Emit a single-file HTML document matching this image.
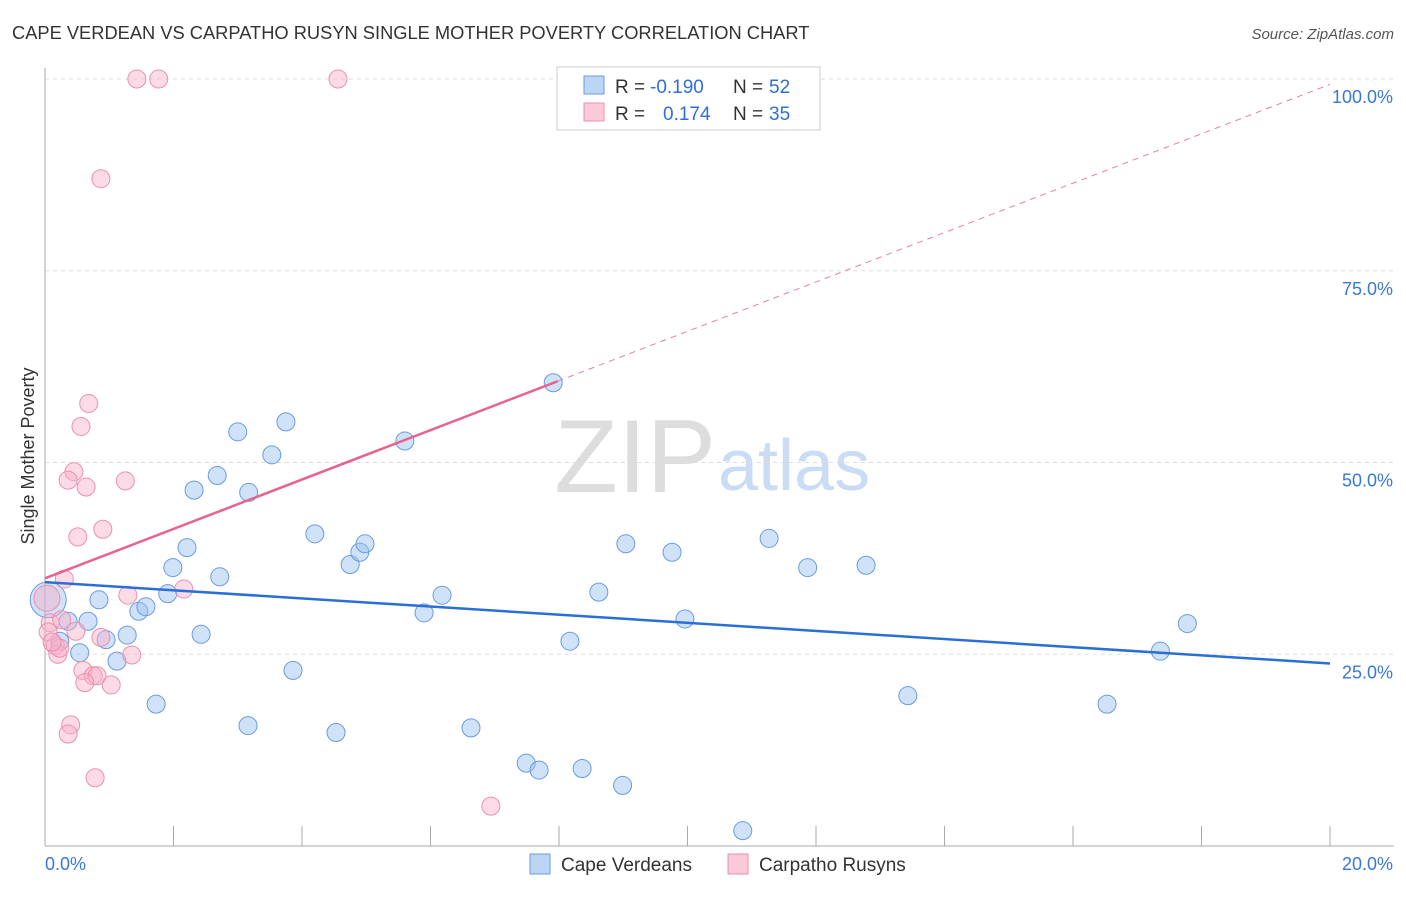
<!DOCTYPE html>
<html><head><meta charset="utf-8"><style>
body{margin:0;background:#fff;font-family:"Liberation Sans",sans-serif;}
svg text{font-family:"Liberation Sans",sans-serif;}
</style></head><body>
<svg id="chart" width="1406" height="892">
<text x="12" y="39" font-size="18.3" fill="#333">CAPE VERDEAN VS CARPATHO RUSYN SINGLE MOTHER POVERTY CORRELATION CHART</text>
<text x="1394" y="39" font-size="15" fill="#555" text-anchor="end" font-style="italic">Source: ZipAtlas.com</text>
<text x="0" y="0" transform="translate(34,456) rotate(-90)" font-size="18" fill="#333" text-anchor="middle">Single Mother Poverty</text>
<text x="716" y="492" font-size="104" fill="#ddd" text-anchor="end" font-family="Liberation Serif">ZIP</text>
<text x="718" y="490" font-size="72" fill="#c9dcf3">atlas</text>
<g id="grid"></g><g id="axes"></g><g id="lines"></g><g id="pts"></g>
<g>
<rect x="557" y="67" width="263" height="63" fill="#fff" stroke="#ccc"/>
<rect x="584" y="76" width="20" height="18" fill="#bdd5f5" stroke="#6a9be0"/>
<rect x="584" y="103" width="20" height="18" fill="#fcc9d8" stroke="#ec8fb0"/>
<text y="93" font-size="19" fill="#333"><tspan x="615">R =</tspan><tspan x="650" fill="#2f6fd6">-0.190</tspan><tspan x="733">N =</tspan><tspan x="769" fill="#2f6fd6">52</tspan></text>
<text y="120" font-size="19" fill="#333"><tspan x="615">R =</tspan><tspan x="663" fill="#2f6fd6">0.174</tspan><tspan x="733">N =</tspan><tspan x="769" fill="#2f6fd6">35</tspan></text>
</g>
<g>
<rect x="530" y="854" width="20" height="20" fill="#bdd5f5" stroke="#6a9be0"/>
<text x="561" y="871" font-size="19" fill="#333">Cape Verdeans</text>
<rect x="728" y="854" width="20" height="20" fill="#fcc9d8" stroke="#ec8fb0"/>
<text x="759" y="871" font-size="19" fill="#333">Carpatho Rusyns</text>
</g>
</svg>
<script>
const yTicks=[25,50,75,100];
const yTickLabels=["25.0%","50.0%","75.0%","100.0%"];
const xTickLabels=["0.0%","20.0%"];
const blueX=[0.05,0.23,0.36,0.54,0.67,0.84,0.95,1.12,1.28,1.46,1.57,1.73,1.91,1.99,2.21,2.32,2.43,2.68,2.72,3.0,3.16,3.17,3.53,3.75,3.86,4.2,4.53,4.75,4.9,4.98,5.6,5.9,6.18,6.63,7.49,7.69,7.91,8.17,8.36,8.62,8.99,9.04,9.76,9.96,10.86,11.27,11.87,12.78,13.43,16.53,17.36,17.78];
const blueY=[32.1,26.7,29.3,25.2,29.3,32.1,26.9,24.1,27.5,30.6,31.2,18.5,32.9,36.3,38.9,46.4,27.6,48.3,35.1,54.0,15.7,46.1,51.0,55.3,22.9,40.7,14.8,36.7,38.3,39.4,52.8,30.4,32.7,15.4,10.8,9.9,60.4,26.7,10.1,33.1,7.9,39.4,38.3,29.6,2.0,40.1,36.3,36.6,19.6,18.5,25.4,29.0];
const blueR=[18,9,9,9,9,9,9,9,9,9,9,9,9,9,9,9,9,9,9,9,9,9,9,9,9,9,9,9,9,9,9,9,9,9,9,9,9,9,9,9,9,9,9,9,9,9,9,9,9,9,9,9];
const pinkX=[1.43,1.77,4.56,0.87,0.68,0.56,0.45,0.36,0.64,1.25,0.9,0.51,0.3,0.03,1.29,2.16,0.08,0.48,0.26,0.87,0.16,0.2,0.23,0.59,0.75,0.81,0.62,1.03,1.35,0.4,0.36,0.78,6.94,0.05,0.11];
const pinkY=[100,100,100,87.0,57.7,54.7,48.8,47.7,46.8,47.6,41.3,40.3,34.8,32.3,32.7,33.5,29.1,28.0,29.5,27.2,26.1,25.0,25.8,22.9,22.2,22.2,21.3,21.0,24.9,15.8,14.6,8.9,5.2,27.9,26.6];
const pinkR=[9,9,9,9,9,9,9,9,9,9,9,9,9,13,9,9,9,9,9,9,9,9,9,9,9,9,9,9,9,9,9,9,9,9,9];
const blueFit=[34.4,23.8];
const pinkFit=[34.9,99.3];
const pinkSolidEnd=7.98;
const X0=45,X1=1330,Y0=846,Y100=79;
const sx=v=>X0+(v/20)*(X1-X0);
const sy=v=>Y0-(v/100)*(Y0-Y100);
const NS="http://www.w3.org/2000/svg";
function mk(tag,attrs,parent){const e=document.createElementNS(NS,tag);for(const k in attrs)e.setAttribute(k,attrs[k]);document.getElementById(parent).appendChild(e);return e;}
yTicks.forEach((t,i)=>{
 const g=mk('line',{x1:X0,x2:1394,y1:sy(t),y2:sy(t),stroke:'#ddd','stroke-dasharray':'4,4'},'grid');
 
 
 const l=mk('text',{x:1393,y:sy(t)+24,'font-size':18,fill:'#3a78d6','text-anchor':'end'},'axes');
 l.textContent=yTickLabels[i];
 
 
});
const ax=mk('line',{x1:X0,x2:X0,y1:68,y2:Y0,stroke:'#aaa'},'axes');


const bx=mk('line',{x1:X0,x2:1394,y1:Y0,y2:Y0,stroke:'#aaa'},'axes');


for(let i=1;i<=10;i++){const t=mk('line',{x1:sx(i*2),x2:sx(i*2),y1:826,y2:Y0,stroke:'#aaa'},'axes');
 
 }
[[0,'start',45],[20,'end',1393]].forEach((d,i)=>{const t=mk('text',{x:d[2],y:870,'font-size':18,fill:'#3a78d6','text-anchor':d[1]},'axes');t.textContent=xTickLabels[i];
 
 });
const pf=x=>pinkFit[0]+(pinkFit[1]-pinkFit[0])*x/20;
const pd=mk('line',{x1:sx(pinkSolidEnd),y1:sy(pf(pinkSolidEnd)),x2:sx(20),y2:sy(pf(20)),stroke:'#e87fa3','stroke-dasharray':'6,5','stroke-width':1},'lines');


blueX.forEach((x,i)=>{const c=mk('circle',{cx:sx(x),cy:sy(blueY[i]),r:blueR[i],fill:'rgba(150,190,240,0.45)',stroke:'#6a9be0','stroke-width':1},'pts');
 
 });
pinkX.forEach((x,i)=>{const c=mk('circle',{cx:sx(x),cy:sy(pinkY[i]),r:pinkR[i],fill:'rgba(248,175,200,0.45)',stroke:'#ec8fb0','stroke-width':1},'pts');
 
 });
const bl=mk('line',{x1:sx(0),y1:sy(blueFit[0]),x2:sx(20),y2:sy(blueFit[1]),stroke:'#2a6fd6','stroke-width':2.5},'pts');


const pl=mk('line',{x1:sx(0),y1:sy(pf(0)),x2:sx(pinkSolidEnd),y2:sy(pf(pinkSolidEnd)),stroke:'#e4638f','stroke-width':2.5},'pts');


</script>
</body></html>
